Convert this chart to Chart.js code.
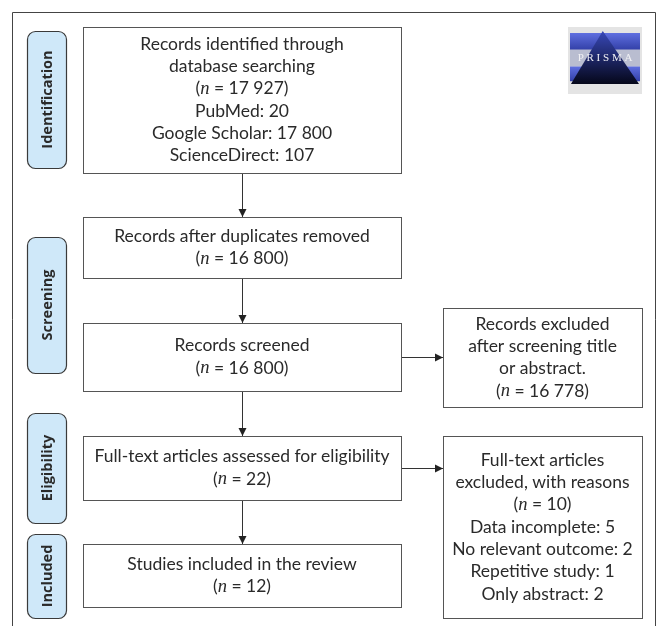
<!DOCTYPE html>
<html>
<head>
<meta charset="utf-8">
<script src="https://cdn.jsdelivr.net/npm/chart.js@4.4.1/dist/chart.umd.min.js"></script>
<style>
  html, body { margin: 0; padding: 0; background: #fff; }
  #wrap { width: 660px; height: 626px; position: relative; }
</style>
</head>
<body>
<div id="wrap"><canvas id="flow"></canvas></div>
<script>
// Stage names (side labels)
const stages = ['Identification', 'Screening', 'Eligibility', 'Included'];

// Box texts; "{n}" marks the italic n
const mainBoxes = [
  ['Records identified through', 'database searching', '({n} = 17 927)', 'PubMed: 20', 'Google Scholar: 17 800', 'ScienceDirect: 107'],
  ['Records after duplicates removed', '({n} = 16 800)'],
  ['Records screened', '({n} = 16 800)'],
  ['Full-text articles assessed for eligibility', '({n} = 22)'],
  ['Studies included in the review', '({n} = 12)']
];
const sideBoxes = [
  ['Records excluded', 'after screening title', 'or abstract.', '({n} = 16 778)'],
  ['Full-text articles', 'excluded, with reasons', '({n} = 10)', 'Data incomplete: 5', 'No relevant outcome: 2', 'Repetitive study: 1', 'Only abstract: 2']
];

// Layout (in canvas units of the hidden 0..660 / 0..626 scales)
const layout = {
  frame: { x0: 12, y0: 12, x1: 655, y1: 626 },
  stages: [[27, 31, 66, 168], [27, 237, 66, 373], [27, 413, 66, 523], [27, 534, 66, 618]],
  main: [[83, 27, 401, 173], [83, 217, 401, 278], [83, 323, 401, 391], [83, 436, 401, 500], [83, 544, 401, 607]],
  side: [[443, 308, 642, 407], [443, 436, 642, 618]],
  sideFrom: [2, 3],
  logo: [568, 27, 642, 94],
  lineH: 22.3
};

const FONT = 'Lato, "Open Sans", sans-serif';
const TEXT = '#2a2a2a';
const EDGE = '#555555';

function drawRichLine(ctx, str, cx, cy, size) {
  const parts = str.split('{n}');
  const segs = [];
  parts.forEach((p, i) => {
    if (p) segs.push({ t: p, f: size + 'px ' + FONT });
    if (i < parts.length - 1) segs.push({ t: 'n', f: 'italic ' + (size + 1) + 'px "Liberation Serif", serif' });
  });
  let w = 0;
  segs.forEach(s => { ctx.font = s.f; s.w = ctx.measureText(s.t).width; w += s.w; });
  let x = cx - w / 2;
  ctx.textAlign = 'left';
  ctx.textBaseline = 'middle';
  segs.forEach(s => { ctx.font = s.f; ctx.fillText(s.t, x, cy); x += s.w; });
}

function arrow(ctx, x0, y0, x1, y1) {
  ctx.strokeStyle = '#333';
  ctx.fillStyle = '#222';
  ctx.lineWidth = 1;
  ctx.beginPath();
  ctx.moveTo(x0, y0);
  ctx.lineTo(x1, y1);
  ctx.stroke();
  const a = Math.atan2(y1 - y0, x1 - x0);
  const L = 8, W = 4;
  ctx.beginPath();
  ctx.moveTo(x1, y1);
  ctx.lineTo(x1 - L * Math.cos(a) + W * Math.sin(a), y1 - L * Math.sin(a) - W * Math.cos(a));
  ctx.lineTo(x1 - L * Math.cos(a) - W * Math.sin(a), y1 - L * Math.sin(a) + W * Math.cos(a));
  ctx.closePath();
  ctx.fill();
}

const flowPlugin = {
  id: 'flowPlugin',
  afterDraw(chart) {
    const ctx = chart.ctx;
    const sx = chart.scales.x, sy = chart.scales.y;
    const X = v => sx.getPixelForValue(v);
    const Y = v => sy.getPixelForValue(v);
    const rect = r => [X(r[0]), Y(r[1]), X(r[2]) - X(r[0]), Y(r[3]) - Y(r[1])];
    ctx.save();

    // outer frame (open at bottom)
    const f = layout.frame;
    ctx.strokeStyle = '#444';
    ctx.lineWidth = 1;
    ctx.beginPath();
    ctx.moveTo(X(f.x0) + 0.5, Y(f.y1));
    ctx.lineTo(X(f.x0) + 0.5, Y(f.y0) + 0.5);
    ctx.lineTo(X(f.x1) + 0.5, Y(f.y0) + 0.5);
    ctx.lineTo(X(f.x1) + 0.5, Y(f.y1));
    ctx.stroke();

    // stage labels
    stages.forEach((s, i) => {
      const [x, y, w, h] = rect(layout.stages[i]);
      ctx.beginPath();
      ctx.roundRect(x + 0.5, y + 0.5, w, h, 8);
      ctx.fillStyle = '#cfe8f9';
      ctx.fill();
      ctx.strokeStyle = '#3a3a3a';
      ctx.lineWidth = 1.2;
      ctx.stroke();
      ctx.save();
      ctx.translate(x + w / 2, y + h / 2);
      ctx.rotate(-Math.PI / 2);
      ctx.fillStyle = TEXT;
      ctx.font = 'bold 14.5px "Open Sans", sans-serif';
      ctx.textAlign = 'center';
      ctx.textBaseline = 'middle';
      ctx.fillText(s, 0, 1);
      ctx.restore();
    });

    const drawBox = (r, lines) => {
      const [x, y, w, h] = rect(r);
      ctx.fillStyle = '#fff';
      ctx.fillRect(x, y, w, h);
      ctx.strokeStyle = EDGE;
      ctx.lineWidth = 1;
      ctx.strokeRect(x + 0.5, y + 0.5, w, h);
      ctx.fillStyle = TEXT;
      const cy = y + h / 2;
      lines.forEach((ln, i) => {
        drawRichLine(ctx, ln, x + w / 2, cy + (i - (lines.length - 1) / 2) * layout.lineH, 17.5);
      });
    };

    // vertical arrows
    for (let i = 0; i < mainBoxes.length - 1; i++) {
      const a = layout.main[i], b = layout.main[i + 1];
      const cx = Math.round(X((a[0] + a[2]) / 2)) + 0.5;
      arrow(ctx, cx, Y(a[3]), cx, Y(b[1]));
    }
    // horizontal arrows
    sideBoxes.forEach((_, i) => {
      const src = layout.main[layout.sideFrom[i]];
      const s = layout.side[i];
      const cy = Math.round(Y((src[1] + src[3]) / 2)) + 0.5;
      arrow(ctx, X(src[2]), cy, X(s[0]), cy);
    });

    mainBoxes.forEach((b, i) => drawBox(layout.main[i], b));
    sideBoxes.forEach((b, i) => drawBox(layout.side[i], b));

    // PRISMA logo
    const [lx, ly, lw, lh] = rect(layout.logo);
    ctx.fillStyle = '#e4e4e4';
    ctx.fillRect(lx, ly, lw, lh);
    const bar = (y0, h) => {
      const g = ctx.createLinearGradient(0, y0, 0, y0 + h);
      g.addColorStop(0, '#5f6fe0');
      g.addColorStop(1, '#3340a8');
      ctx.fillStyle = g;
      ctx.fillRect(lx + 2, y0, lw - 4, h);
    };
    bar(ly + 6, lh * 0.25);
    ctx.fillStyle = '#b9bdd0';
    ctx.fillRect(lx + 2, ly + 6 + lh * 0.25, lw - 4, lh * 0.25);
    bar(ly + 6 + lh * 0.5, lh * 0.22);
    const tg = ctx.createLinearGradient(0, ly + 4, 0, ly + lh - 10);
    tg.addColorStop(0, '#3848b8');
    tg.addColorStop(1, '#05071a');
    ctx.fillStyle = tg;
    ctx.beginPath();
    ctx.moveTo(lx + lw * 0.47, ly + 4);
    ctx.lineTo(lx + lw * 0.96, ly + lh - 10);
    ctx.lineTo(lx + lw * 0.04, ly + lh - 10);
    ctx.closePath();
    ctx.fill();
    ctx.fillStyle = '#f0f0f4';
    ctx.font = '11px "Liberation Serif", serif';
    ctx.textAlign = 'center';
    ctx.textBaseline = 'middle';
    ctx.fillText('P R I S M A', lx + lw / 2, ly + 6 + lh * 0.375);

    ctx.restore();
  }
};

new Chart(document.getElementById('flow'), {
  type: 'scatter',
  data: { datasets: [{ data: [], showLine: false }] },
  options: {
    responsive: true,
    maintainAspectRatio: false,
    animation: false,
    events: [],
    layout: { padding: 0 },
    plugins: { legend: { display: false }, tooltip: { enabled: false } },
    scales: {
      x: { type: 'linear', min: 0, max: 660, display: false },
      y: { type: 'linear', min: 0, max: 626, reverse: true, display: false }
    }
  },
  plugins: [flowPlugin]
});
</script>
</body>
</html>
